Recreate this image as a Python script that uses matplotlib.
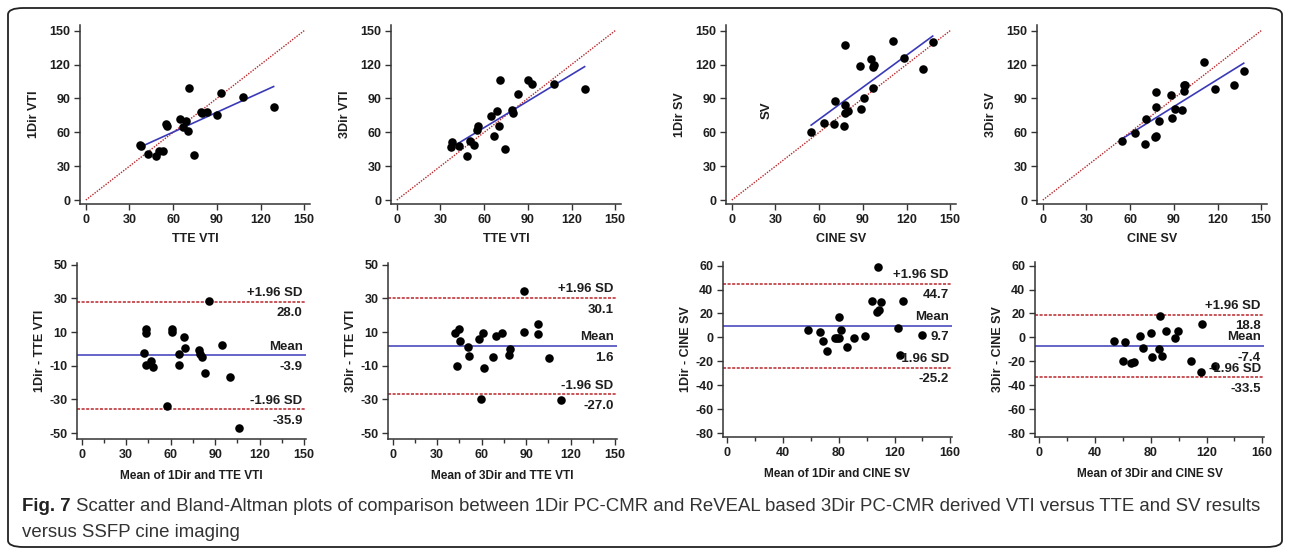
import numpy as np
import matplotlib
matplotlib.use("Agg")
import matplotlib.pyplot as plt
from matplotlib.patches import FancyBboxPatch
from matplotlib.ticker import MultipleLocator

plt.rcParams["font.family"] = ["Liberation Sans", "DejaVu Sans"]
plt.rcParams["font.weight"] = "bold"
plt.rcParams["axes.labelweight"] = "bold"
plt.rcParams["axes.unicode_minus"] = False

# --- scatter data (top row) ---
tte_vti = [37, 38, 43, 48, 50, 53, 55, 56, 65, 67, 69, 70, 71, 74, 79, 80, 83, 90, 93, 108, 129]
dir1_vti = [49, 48, 41, 39, 43, 43, 67, 66, 72, 65, 70, 61, 99, 40, 78, 77, 78, 75, 95, 91, 82]
dir3_vti = [47, 51, 48, 39, 52, 49, 62, 66, 74, 57, 79, 66, 106, 45, 80, 77, 94, 106, 103, 103, 98]

cine_sv = [54.5, 63.5, 70, 71, 77, 78, 78, 78, 79.5, 88, 89, 91, 95.5, 97, 97.5, 97, 111, 118.5, 131, 138]
dir1_sv = [60.5, 68, 67, 88, 65.5, 84, 137, 77, 79, 119, 81, 90, 125, 117.5, 120, 99, 140.5, 126, 116, 140]
dir3_sv = [52, 59.5, 49.5, 72, 55.5, 57, 96, 82, 70, 93, 72.5, 81, 80, 102, 102, 97, 122, 98, 101.5, 114]

# --- Bland-Altman data (bottom row) ---
ba1_mean = [42.3, 43.2, 43.2, 43.2, 46.5, 47.9, 57.3, 61.2, 61.2, 65.9, 65.4, 69, 69.9, 79.2, 79.6, 80.9, 83, 85.7, 94.4, 100.1, 106.1]
ba1_diff = [-2.2, 11.7, 9.7, -9.8, -7.4, -10.8, -33.7, 12.1, 9.9, -2.9, -9.6, 6.9, 0.8, -0.5, -3.1, -4.9, -14.4, 28.4, 2.4, -16.7, -46.9]

ba2_mean = [42.1, 44.5, 45.7, 43.4, 50.6, 51.3, 58.2, 61.1, 61.8, 59.5, 67.6, 69.4, 73.9, 78.6, 79, 88.4, 88.7, 97.8, 98.1, 105.2, 113.7]
ba2_diff = [9.5, 12.1, 4.4, -10.1, 1.0, -4.3, 6.0, 9.7, -11.1, -29.7, -5.0, 7.9, 9.3, -3.4, 0, 10.1, 34.5, 14.7, 8.9, -5.6, -30.6]

ba3_mean = [57.9, 66.3, 68.6, 71.5, 77.5, 78.9, 80.1, 79.9, 81.3, 85.6, 90.6, 98.5, 103.6, 107.4, 108.8, 110.5, 108.1, 122.2, 123.7, 126, 139.4]
ba3_diff = [5.8, 4.7, -2.8, -11.7, -0.8, -0.3, -0.3, 17.2, 6.1, -8.3, -0.6, 1.1, 30.8, 21.1, 23.1, 29.4, 59.2, 7.5, -14.7, 30.3, 1.9]

ba4_mean = [53.5, 59.7, 61.4, 65.9, 67.6, 71.9, 74.7, 80, 81.2, 86, 86.9, 87.9, 90.7, 97.4, 99.6, 108.7, 116.8, 115.8, 126.3]
ba4_diff = [-2.8, -20, -4.2, -21.7, -20.6, 1.1, -8.9, 3.9, -16.7, -9.4, 18.1, -15.3, 5.6, -0.6, 5.3, -19.4, 11.4, -29.2, -23.9]

ba_upper = [28.0, 30.1, 44.7, 18.8]
ba_bias = [-3.9, 1.6, 9.7, -7.4]
ba_lower = [-35.9, -27.0, -25.2, -33.5]

scatter_xlabels = ["TTE VTI", "TTE VTI", "CINE SV", "CINE SV"]
scatter_ylabels = ["1Dir VTI", "3Dir VTI", "1Dir SV", "3Dir SV"]
ba_xlabels = ["Mean of 1Dir and TTE VTI", "Mean of 3Dir and TTE VTI",
              "Mean of 1Dir and CINE SV", "Mean of 3Dir and CINE SV"]
ba_ylabels = ["1Dir - TTE VTI", "3Dir - TTE VTI", "1Dir - CINE SV", "3Dir - CINE SV"]

caption_bold = "Fig. 7"
caption_rest = ("Scatter and Bland-Altman plots of comparison between 1Dir PC-CMR and ReVEAL based "
                "3Dir PC-CMR derived VTI versus TTE and SV results")
caption_line2 = "versus SSFP cine imaging"

W, H = 1290, 550
RED = "#b8262a"
BLUE = "#3a3ab8"
AX_COL = "#333333"
TXT = "#1e1e1e"


def px_axes(fig, left, top, right, bottom):
    return fig.add_axes([left / W, 1 - bottom / H, (right - left) / W, (bottom - top) / H])


def style_axes(ax):
    for s in ["top", "right"]:
        ax.spines[s].set_visible(False)
    for s in ["left", "bottom"]:
        ax.spines[s].set_color(AX_COL)
        ax.spines[s].set_linewidth(1.1)
    ax.tick_params(which="both", direction="out", color=AX_COL, width=1.0,
                   labelsize=9, pad=3, labelcolor=TXT)
    ax.tick_params(which="major", length=4)
    ax.tick_params(which="minor", length=3)


def scatter_panel(ax, x, y, xlabel, ylabel):
    ax.plot([0, 150], [0, 150], color=RED, linestyle=(0, (1, 1)), linewidth=1.0)
    k, b = np.polyfit(x, y, 1)
    xf = np.array([min(x), max(x)])
    ax.plot(xf, k * xf + b, color=BLUE, linewidth=1.2)
    ax.scatter(x, y, s=38, color="black", zorder=3, linewidths=0)
    ax.set_xlim(-4, 154)
    ax.set_ylim(-3.5, 155)
    ax.set_xticks(range(0, 151, 30))
    ax.set_yticks(range(0, 151, 30))
    style_axes(ax)
    ax.set_xlabel(xlabel, fontsize=9, labelpad=5, color=TXT)
    ax.set_ylabel(ylabel, fontsize=9, labelpad=7, color=TXT)


def ba_panel(ax, x, d, upper, bias, lower, xlabel, ylabel, xmax, xstep, ylim, yticks):
    ax.axhline(upper, color=RED, linestyle=(0, (2, 1)), linewidth=1.1)
    ax.axhline(lower, color=RED, linestyle=(0, (2, 1)), linewidth=1.1)
    ax.axhline(bias, color=BLUE, linewidth=1.1)
    ax.scatter(x, d, s=38, color="black", zorder=3, linewidths=0)
    tx = xmax - 1
    for val, top in [(upper, "+1.96 SD"), (bias, "Mean"), (lower, "-1.96 SD")]:
        ax.annotate(top, (tx, val), xytext=(0, 2), textcoords="offset points",
                    ha="right", va="bottom", fontsize=9.5, color=TXT)
        ax.annotate(f"{val:.1f}", (tx, val), xytext=(0, -4), textcoords="offset points",
                    ha="right", va="top", fontsize=9.5, color=TXT)
    ax.set_xlim(-3.2, xmax + 1.3)
    ax.set_ylim(*ylim)
    ax.xaxis.set_major_locator(MultipleLocator(xstep))
    ax.xaxis.set_minor_locator(MultipleLocator(xstep / 2))
    ax.set_yticks(yticks)
    style_axes(ax)
    ax.set_xlabel(xlabel, fontsize=8.6, labelpad=7, color=TXT)
    ax.set_ylabel(ylabel, fontsize=9, labelpad=2, color=TXT)


fig = plt.figure(figsize=(W / 100, H / 100), dpi=100)

frame = FancyBboxPatch((8 / W, 3 / H), 1274 / W, 539 / H,
                       boxstyle="round,pad=0,rounding_size=0.012",
                       transform=fig.transFigure, facecolor="none",
                       edgecolor="#222222", linewidth=1.3)
fig.patches.append(frame)

top_lefts = [80, 391, 726, 1037]
scatter_y = [dir1_vti, dir3_vti, dir1_sv, dir3_sv]
scatter_x = [tte_vti, tte_vti, cine_sv, cine_sv]
for i in range(4):
    ax = px_axes(fig, top_lefts[i], 25, top_lefts[i] + 230, 204)
    scatter_panel(ax, scatter_x[i], scatter_y[i], scatter_xlabels[i], scatter_ylabels[i])
    if i == 2:
        ax.text(24, 80, "SV", rotation=90, ha="center", va="center",
                fontsize=9.5, color=TXT)

bot_lefts = [77, 388, 723, 1035]
ba_x = [ba1_mean, ba2_mean, ba3_mean, ba4_mean]
ba_d = [ba1_diff, ba2_diff, ba3_diff, ba4_diff]
for i in range(4):
    vti = i < 2
    top, bottom = (263, 439) if vti else (262, 437)
    ax = px_axes(fig, bot_lefts[i], top, bot_lefts[i] + 229, bottom)
    ba_panel(ax, ba_x[i], ba_d[i], ba_upper[i], ba_bias[i], ba_lower[i],
             ba_xlabels[i], ba_ylabels[i],
             xmax=150 if vti else 160, xstep=30 if vti else 40,
             ylim=(-53.5, 51) if vti else (-83.3, 63),
             yticks=list(range(-50, 51, 20)) if vti else list(range(-80, 61, 20)))

# caption: size chosen so line 1 spans the box width like the reference
cap_font = ["Liberation Sans", "DejaVu Sans"]
base = 14.0
t1 = fig.text(22 / W, 1 - 511 / H, caption_bold + " ", fontsize=base, fontweight="bold",
              color="#222222", family=cap_font, va="baseline")
t2 = fig.text(0, 1 - 511 / H, caption_rest, fontsize=base, fontweight="normal",
              color="#333333", family=cap_font, va="baseline")
fig.canvas.draw()
r = fig.canvas.get_renderer()
total = t1.get_window_extent(r).width + t2.get_window_extent(r).width
size = base * 1252 / total
t1.set_fontsize(size)
t2.set_fontsize(size)
fig.canvas.draw()
t2.set_x(t1.get_window_extent(r).x1 / W)
fig.text(22 / W, 1 - 537 / H, caption_line2, fontsize=size, fontweight="normal",
         color="#333333", family=cap_font, va="baseline")

fig.savefig("out.png", dpi=100)
